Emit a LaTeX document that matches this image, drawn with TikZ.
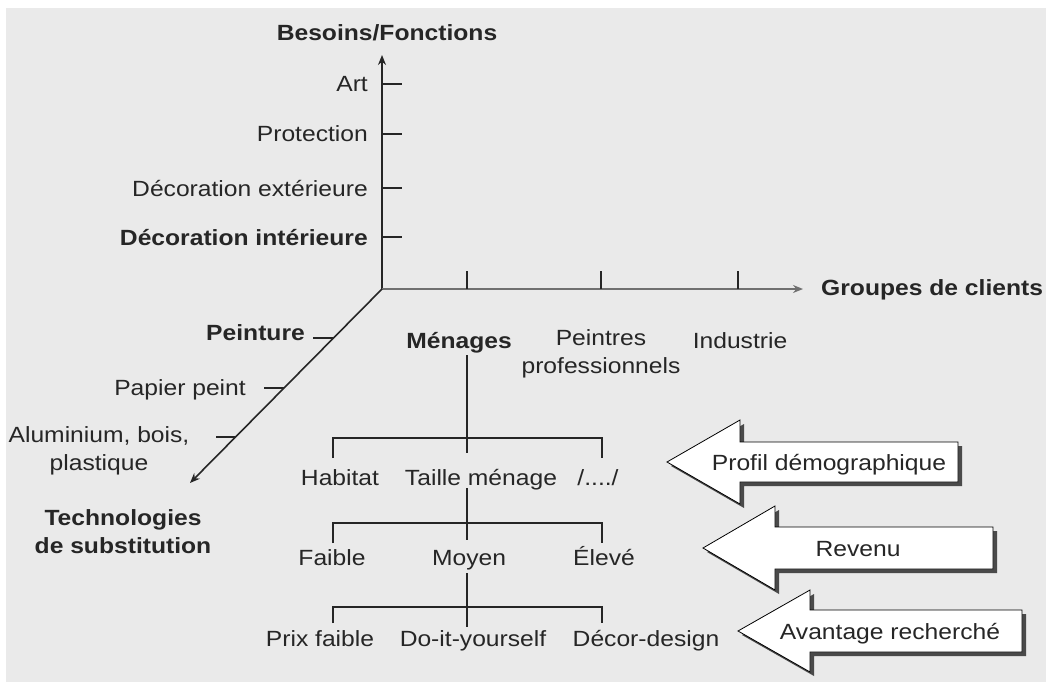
\documentclass[tikz,border=0pt]{standalone}
\usepackage{fontspec}
\setmainfont{Liberation Sans}[FakeStretch=1.12]
\usetikzlibrary{arrows.meta,calc}
\definecolor{bg}{HTML}{EAEAEA}
\definecolor{ink}{HTML}{262626}
\definecolor{axisgray}{HTML}{707070}
\definecolor{shade}{HTML}{4A4A4A}

\begin{document}
\begin{tikzpicture}[x=1pt,y=-1pt,
  every node/.style={inner sep=0pt, text=ink, font=\fontsize{22}{28}\selectfont},
  lbl/.style={text height=16pt, text depth=0pt},
  bold/.style={font=\fontsize{22}{28}\selectfont\bfseries},
  axis/.style={line width=1.6pt, draw=ink, -{Stealth[length=10pt,width=8pt]}},
  tick/.style={line width=1.4pt, draw=ink},
  tree/.style={line width=1.6pt, draw=ink},
  blockarrow/.style={fill=white, draw=black, line width=0.8pt},
  blockshadow/.style={fill=shade},
]
% canvas and background panel
\useasboundingbox (0,0) rectangle (1046,682);
\fill[white] (0,0) rectangle (1046,682);
\fill[bg] (6,8) rectangle (1046,682);

% ---- three axes ----
\coordinate (O) at (382,289);
\coordinate (vtop) at (382,55);
\coordinate (htip) at (803,289);
\coordinate (dtip) at (190,483);

\draw[axis] (O) -- (vtop);
\draw[axis, draw=axisgray, line width=2pt] (O) -- (htip);
\draw[axis] (O) -- (dtip);

\node[bold, lbl] (needs) at (387,33) {Besoins/Fonctions};
\node[bold, lbl, anchor=west] (groups) at (821,287) {Groupes de clients};
\node[bold, align=center] (techs) at (123,532) {Technologies\\de substitution};

% needs / functions axis
\foreach \yy/\nm/\txt/\st in {84/art/Art/, 134/prot/Protection/, 188/ext/Décoration extérieure/, 237/int/Décoration intérieure/bold} {
  \coordinate (t\nm) at (382,\yy);
  \draw[tick] (t\nm) -- ++(20,0);
  \node[lbl, anchor=east, \st] (\nm) at (368,\yy) {\txt};
}

% customer groups axis
\foreach \xx in {467,601,738} {
  \draw[tick] (\xx,289) -- (\xx,271);
}
\node[bold, lbl] (men) at (459,340) {Ménages};
\node[align=center] (pros) at (601,354) {Peintres\\professionnels};
\node[lbl] (ind) at (740,340) {Industrie};

% substitution technologies axis
\coordinate (dpaint) at ($(O)!0.253!(dtip)$);
\coordinate (dpaper) at ($(O)!0.510!(dtip)$);
\coordinate (dalu) at ($(O)!0.763!(dtip)$);
\draw[tick] (dpaint) -- ++(-20,0);
\draw[tick] (dpaper) -- ++(-20,0);
\draw[tick] (dalu) -- ++(-20,0);
\node[bold, lbl, anchor=east] (paint) at (305,332) {Peinture};
\node[lbl, anchor=east] (paper) at (246,387) {Papier peint};
\node[align=center] (alu) at (99,451) {Aluminium, bois,\\plastique};

% ---- segmentation tree of households ----
\coordinate (b1) at (467,438);
\coordinate (b1l) at (333,438);
\coordinate (b1r) at (602,438);
\coordinate (b2) at (467,523);
\coordinate (b2l) at (333,523);
\coordinate (b2r) at (602,523);
\coordinate (b3) at (467,607);
\coordinate (b3l) at (333,607);
\coordinate (b3r) at (602,607);

\node[lbl] (hab) at (340,477) {Habitat};
\node[lbl] (size) at (481,477) {Taille ménage};
\node[lbl] (etc) at (598,477) {/..../};
\node[lbl] (low) at (332,557) {Faible};
\node[lbl] (mid) at (469,557) {Moyen};
\node[lbl] (high) at (604,557) {Élevé};
\node[lbl] (cheap) at (320,638) {Prix faible};
\node[lbl] (diy) at (473,638) {Do-it-yourself};
\node[lbl] (deco) at (646,638) {Décor-design};

\draw[tree] ([yshift=-7pt]men.south -| b1) -- (b1) -- ([yshift=-15pt]b1);
\draw[tree] ([yshift=-20pt]b1l) -- (b1l) -- (b1r) -- ([yshift=-20pt]b1r);
\draw[tree] ([yshift=-3pt]size.south -| b2) -- (b2) -- ([yshift=-17pt]b2);
\draw[tree] ([yshift=-20pt]b2l) -- (b2l) -- (b2r) -- ([yshift=-20pt]b2r);
\draw[tree] ([yshift=-8pt]mid.south -| b3) -- (b3) -- ([yshift=-20pt]b3);
\draw[tree] ([yshift=-16pt]b3l) -- (b3l) -- (b3r) -- ([yshift=-16pt]b3r);

% ---- criteria block arrows ----
\foreach \tx/\ty/\hx/\hh/\bh/\rx in {667/462/740/42/20/958, 703/548/775/42/21/993, 738/631/810/41/21/1022} {
  \fill[blockshadow] ($(\tx,\ty)+(4,4)$) -- ($(\hx,\ty-\hh)+(4,4)$) -- ($(\hx,\ty-\bh)+(4,4)$)
    -- ($(\rx,\ty-\bh)+(4,4)$) -- ($(\rx,\ty+\bh)+(4,4)$) -- ($(\hx,\ty+\bh)+(4,4)$)
    -- ($(\hx,\ty+\hh)+(4,4)$) -- cycle;
  \filldraw[blockarrow] (\tx,\ty) -- (\hx,\ty-\hh) -- (\hx,\ty-\bh) -- (\rx,\ty-\bh)
    -- (\rx,\ty+\bh) -- (\hx,\ty+\bh) -- (\hx,\ty+\hh) -- cycle;
}
\node[lbl] (demo) at (829,462) {Profil démographique};
\node[lbl] (income) at (858,548) {Revenu};
\node[lbl] (benefit) at (890,631) {Avantage recherché};
\end{tikzpicture}
\end{document}
